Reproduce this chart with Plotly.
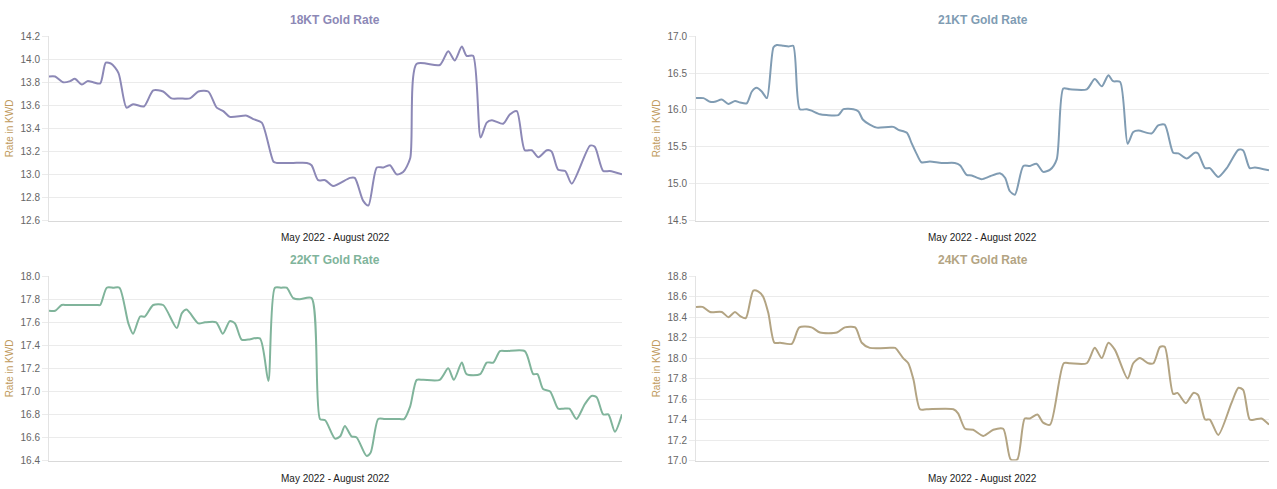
import pandas as pd
import plotly.graph_objects as go

START = pd.Timestamp("2022-05-01")

# ---- data (day offset from 1 May 2022, rate in KWD) ----
days_18 = [0, 1.3, 3.0, 4.5, 5.5, 7.0, 8.2, 9.4, 10.9, 12.1, 13.3, 14.8, 16.5, 17.9, 20.2, 22.2,
           24.3, 26.1, 27.9, 30.0, 31.8, 33.9, 35.7, 37.1, 38.5, 42.1, 43.5, 45.3, 47.8, 48.5,
           50.6, 52.0, 54.9, 55.9, 57.3, 58.8, 60.5, 64.1, 65.1, 66.9, 68.0, 69.8, 71.2, 72.6,
           74.0, 75.4, 76.9, 78.3, 83.2, 85.0, 86.4, 87.9, 88.9, 90.3, 91.9, 93.2, 94.3, 96.7,
           98.1, 99.6, 101.3, 102.8, 104.2, 106.0, 107.0, 108.4, 109.9, 111.3, 115.2, 116.2,
           118.0, 119.4, 122]
rate_18 = [13.85, 13.85, 13.80, 13.81, 13.83, 13.78, 13.81, 13.80, 13.79, 13.97, 13.96, 13.88,
           13.58, 13.61, 13.59, 13.73, 13.72, 13.66, 13.66, 13.66, 13.72, 13.72, 13.58, 13.55,
           13.50, 13.51, 13.48, 13.45, 13.11, 13.10, 13.10, 13.10, 13.10, 13.08, 12.95, 12.95,
           12.90, 12.97, 12.97, 12.77, 12.73, 13.06, 13.06, 13.08, 13.00, 13.02, 13.14, 13.96,
           13.95, 14.07, 13.99, 14.11, 14.03, 14.03, 13.32, 13.45, 13.47, 13.44, 13.52, 13.55,
           13.21, 13.21, 13.15, 13.21, 13.20, 13.04, 13.03, 12.92, 13.25, 13.24, 13.03, 13.03,
           13.00]

days_21 = [0, 1.6, 3.0, 4.0, 5.5, 6.9, 8.3, 9.4, 10.8, 11.9, 12.9, 14.0, 15.1, 16.5, 17.2, 18.6,
           19.7, 20.7, 22.1, 23.6, 24.6, 26.4, 27.8, 30.3, 31.4, 33.5, 34.6, 35.5, 37.0, 38.5,
           42.0, 43.1, 44.9, 45.9, 47.0, 48.0, 49.8, 52.3, 55.1, 56.2, 57.6, 58.7, 60.8, 62.6,
           64.7, 65.8, 66.8, 67.9, 69.7, 71.1, 72.5, 73.9, 75.4, 76.8, 78.2, 79.6, 83.2, 84.9,
           86.4, 87.8, 88.8, 90.3, 91.9, 93.1, 94.2, 97.0, 98.4, 99.8, 101.6, 102.7, 104.5,
           106.2, 106.9, 108.4, 109.4, 111.2, 113.0, 115.5, 116.5, 117.9, 119.0, 122]
rate_21 = [16.16, 16.16, 16.11, 16.11, 16.14, 16.08, 16.12, 16.10, 16.09, 16.25, 16.30, 16.25,
           16.16, 16.85, 16.88, 16.87, 16.86, 16.87, 16.01, 16.01, 15.99, 15.94, 15.93, 15.93,
           16.01, 16.01, 15.98, 15.87, 15.80, 15.76, 15.77, 15.73, 15.69, 15.55, 15.40, 15.29,
           15.30, 15.28, 15.28, 15.25, 15.12, 15.11, 15.06, 15.10, 15.14, 15.08, 14.90, 14.85,
           15.24, 15.24, 15.27, 15.16, 15.19, 15.33, 16.29, 16.28, 16.28, 16.42, 16.32, 16.47,
           16.39, 16.38, 15.54, 15.70, 15.72, 15.68, 15.79, 15.80, 15.42, 15.41, 15.34, 15.42,
           15.41, 15.21, 15.21, 15.09, 15.21, 15.46, 15.45, 15.21, 15.22, 15.18]

days_22 = [0, 1.3, 2.7, 3.8, 10.2, 10.9, 12.3, 13.7, 15.0, 16.9, 17.9, 19.4, 20.4, 22.2, 24.3,
           27.2, 28.3, 29.3, 31.8, 33.2, 35.6, 37.0, 38.5, 39.6, 41.0, 42.4, 44.9, 46.7, 48.1,
           49.5, 50.6, 52.0, 53.4, 55.9, 57.7, 58.8, 60.9, 62.0, 63.0, 64.4, 65.5, 67.6, 68.5,
           70.1, 71.5, 74.7, 75.6, 76.9, 78.3, 79.7, 83.2, 85.0, 86.2, 87.9, 88.9, 91.8, 93.2,
           94.6, 96.0, 97.4, 101.3, 103.1, 104.0, 105.2, 106.7, 108.4, 109.5, 110.8, 112.3,
           114.1, 115.5, 116.6, 118.0, 119.1, 120.5, 122]
rate_22 = [17.70, 17.70, 17.75, 17.75, 17.75, 17.75, 17.90, 17.90, 17.90, 17.59, 17.50, 17.65,
           17.65, 17.75, 17.75, 17.55, 17.68, 17.71, 17.59, 17.60, 17.60, 17.50, 17.61, 17.59,
           17.45, 17.45, 17.46, 17.09, 17.90, 17.90, 17.90, 17.81, 17.80, 17.81, 16.76, 16.75,
           16.59, 16.61, 16.70, 16.61, 16.60, 16.44, 16.47, 16.76, 16.76, 16.76, 16.76, 16.87,
           17.10, 17.10, 17.10, 17.20, 17.10, 17.25, 17.15, 17.15, 17.25, 17.25, 17.35, 17.35,
           17.35, 17.15, 17.15, 17.02, 17.00, 16.85, 16.85, 16.85, 16.76, 16.89, 16.96, 16.95,
           16.80, 16.80, 16.65, 16.80]

days_24 = [0, 1.4, 3.0, 5.5, 6.9, 8.3, 9.4, 10.6, 12.2, 13.3, 14.3, 15.4, 16.7, 17.9, 20.4, 22.0,
           24.6, 26.4, 30.0, 31.7, 33.9, 35.3, 37.0, 41.3, 42.4, 44.1, 45.2, 46.3, 47.7, 49.1,
           54.8, 55.8, 57.3, 59.0, 61.2, 63.3, 65.4, 67.0, 68.4, 70.0, 71.1, 72.7, 73.9, 75.4,
           78.3, 79.6, 83.2, 84.9, 86.4, 87.8, 89.2, 91.9, 93.1, 94.5, 96.3, 97.4, 98.8, 99.8,
           101.6, 102.5, 104.3, 105.9, 106.9, 108.4, 109.4, 111.2, 114.0, 115.5, 116.5, 117.9,
           119.0, 120.4, 122]
rate_24 = [18.50, 18.50, 18.45, 18.45, 18.40, 18.45, 18.41, 18.39, 18.66, 18.65, 18.60, 18.44,
           18.15, 18.15, 18.14, 18.30, 18.30, 18.25, 18.25, 18.30, 18.30, 18.15, 18.10, 18.10,
           18.10, 18.00, 17.95, 17.79, 17.50, 17.50, 17.50, 17.46, 17.31, 17.30, 17.24, 17.30,
           17.31, 17.01, 17.01, 17.41, 17.41, 17.45, 17.37, 17.35, 17.95, 17.95, 17.95, 18.10,
           18.00, 18.15, 18.08, 17.80, 17.95, 18.00, 17.95, 17.95, 18.11, 18.11, 17.65, 17.66,
           17.56, 17.66, 17.64, 17.40, 17.40, 17.25, 17.56, 17.71, 17.69, 17.40, 17.40, 17.41,
           17.35]

titles = ["18KT Gold Rate", "21KT Gold Rate", "22KT Gold Rate", "24KT Gold Rate"]
colors = ["#8c88b6", "#809cb3", "#80b49b", "#b3a483"]
y_ranges = [[12.6, 14.2], [14.5, 17.0], [16.4, 18.0], [17.0, 18.8]]
y_dticks = [0.2, 0.5, 0.2, 0.2]
x_title = "May 2022 - August 2022"
y_title = "Rate in KWD"

series = [(days_18, rate_18), (days_21, rate_21), (days_22, rate_22), (days_24, rate_24)]

W, H = 1277, 489
# observed vertical rendering: effective height and top offset
H_EFF, OFF = 478.0, 4.8


def py(p):
    """paper y fraction for a target pixel row p (from top)."""
    return 1 - ((p - OFF) / H_EFF)


# plot-area boxes in pixels (left, right, top, bottom)
boxes = [(49, 622, 35, 219.3), (696, 1269, 35, 219.3),
         (49, 622, 275, 459.3), (696, 1269, 275, 459.3)]

fig = go.Figure()
x_end = START + pd.Timedelta(days=122)
annotations = []
font_fam = "Liberation Sans, Arial, sans-serif"
for i, ((d, r), box) in enumerate(zip(series, boxes)):
    n = i + 1
    xa = "x" if n == 1 else f"x{n}"
    ya = "y" if n == 1 else f"y{n}"
    dates = [START + pd.Timedelta(days=v) for v in d]
    fig.add_trace(go.Scatter(x=dates, y=r, mode="lines", xaxis=xa, yaxis=ya,
                             line=dict(color=colors[i], width=2, shape="spline", smoothing=0.7),
                             showlegend=False, cliponaxis=True))
    l, rgt, t, b = box
    xdom = [l / W, rgt / W]
    ydom = [py(b), py(t)]
    fig.update_layout(**{
        ("xaxis" if n == 1 else f"xaxis{n}"): dict(
            domain=xdom, anchor=ya, range=[START, x_end], showticklabels=False,
            showgrid=False, zeroline=False, showline=True, linecolor="#d9d9d9",
            linewidth=1, ticks="", fixedrange=True),
        ("yaxis" if n == 1 else f"yaxis{n}"): dict(
            domain=ydom, anchor=xa, range=y_ranges[i], dtick=y_dticks[i],
            tick0=y_ranges[i][0], tickformat=".1f", showgrid=True, gridcolor="#ebebeb",
            gridwidth=1, zeroline=False, showline=True, linecolor="#e3e3e3", linewidth=1,
            ticks="outside", ticklen=6, tickcolor="#ebebeb",
            tickfont=dict(family=font_fam, size=10, color="#666666")),
    })
    cx = (l + rgt) / 2 / W
    annotations.append(dict(text=f"<b>{titles[i]}</b>", x=cx, y=py(t - 16), xref="paper",
                            yref="paper", showarrow=False, xanchor="center", yanchor="middle",
                            font=dict(family=font_fam, size=12, color=colors[i])))
    annotations.append(dict(text=x_title, x=cx, y=py(b + 17.5), xref="paper", yref="paper",
                            showarrow=False, xanchor="center", yanchor="middle",
                            font=dict(family=font_fam, size=10, color="#222222")))
    annotations.append(dict(text=y_title, x=(l - 40) / W, y=py((t + b) / 2), xref="paper",
                            yref="paper", showarrow=False, textangle=-90, xanchor="center",
                            yanchor="middle",
                            font=dict(family=font_fam, size=10, color="#c09a5c")))

fig.update_layout(width=W, height=H, margin=dict(l=0, r=0, t=0, b=0),
                  paper_bgcolor="white", plot_bgcolor="white", annotations=annotations,
                  hovermode="x")
fig.write_html("out.html")
